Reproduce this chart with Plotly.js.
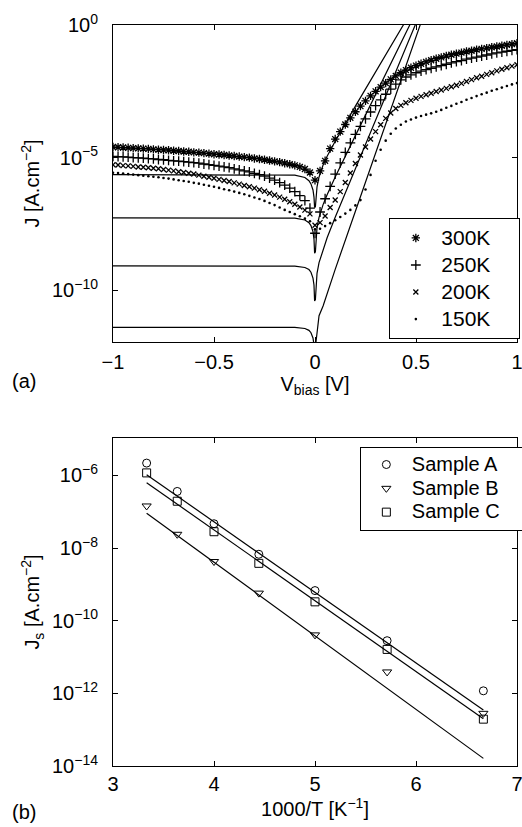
<!DOCTYPE html>
<html>
<head>
<meta charset="utf-8">
<script src="https://cdn.plot.ly/plotly-3.0.1.min.js"></script>
<style>html,body{margin:0;padding:0;background:#fff;}#chart{width:522px;height:827px;}</style>
</head>
<body>
<div id="chart"></div>
<script>
// ---------- Panel (a): J-V curves (log10 of J) ----------
const vbias = [-1,-0.975,-0.95,-0.925,-0.9,-0.875,-0.85,-0.825,-0.8,-0.775,-0.75,-0.725,-0.7,-0.675,-0.65,-0.625,-0.6,-0.575,-0.55,-0.525,-0.5,-0.475,-0.45,-0.425,-0.4,-0.375,-0.35,-0.325,-0.3,-0.275,-0.25,-0.225,-0.2,-0.175,-0.15,-0.125,-0.1,-0.075,-0.05,-0.025,0,0.025,0.05,0.075,0.1,0.125,0.15,0.175,0.2,0.225,0.25,0.275,0.3,0.325,0.35,0.375,0.4,0.425,0.45,0.475,0.5,0.525,0.55,0.575,0.6,0.625,0.65,0.675,0.7,0.725,0.75,0.775,0.8,0.825,0.85,0.875,0.9,0.925,0.95,0.975,1];

const logJ_300K = [-4.60,-4.61,-4.62,-4.63,-4.64,-4.65,-4.66,-4.67,-4.69,-4.70,-4.71,-4.72,-4.74,-4.75,-4.77,-4.78,-4.80,-4.81,-4.83,-4.85,-4.87,-4.88,-4.90,-4.92,-4.94,-4.96,-4.98,-5.00,-5.03,-5.05,-5.08,-5.11,-5.14,-5.17,-5.21,-5.25,-5.29,-5.35,-5.43,-5.56,-5.85,
 -5.50,-5.12,-4.66,-4.30,-4.02,-3.75,-3.50,-3.27,-3.06,-2.86,-2.67,-2.50,-2.34,-2.19,-2.05,-1.92,-1.80,-1.70,-1.61,-1.53,-1.46,-1.39,-1.33,-1.27,-1.22,-1.17,-1.12,-1.08,-1.04,-1.00,-0.97,-0.93,-0.90,-0.87,-0.84,-0.81,-0.78,-0.75,-0.72,-0.69];
const logJ_250K = [-4.95,-4.96,-4.97,-4.98,-5.00,-5.01,-5.02,-5.04,-5.05,-5.07,-5.08,-5.10,-5.12,-5.13,-5.15,-5.17,-5.19,-5.21,-5.24,-5.26,-5.29,-5.32,-5.35,-5.38,-5.42,-5.46,-5.50,-5.54,-5.59,-5.64,-5.70,-5.77,-5.85,-5.94,-6.04,-6.15,-6.28,-6.43,-6.62,-6.90,-7.85,
 -7.05,-6.55,-6.08,-5.62,-5.20,-4.80,-4.44,-4.12,-3.82,-3.54,-3.28,-3.04,-2.82,-2.61,-2.42,-2.23,-2.07,-1.96,-1.88,-1.80,-1.74,-1.68,-1.63,-1.58,-1.53,-1.48,-1.43,-1.38,-1.34,-1.29,-1.25,-1.21,-1.17,-1.13,-1.09,-1.05,-1.02,-0.99,-0.96,-0.93];
const logJ_200K = [-5.27,-5.28,-5.30,-5.31,-5.33,-5.35,-5.36,-5.38,-5.40,-5.42,-5.45,-5.47,-5.50,-5.53,-5.56,-5.59,-5.62,-5.66,-5.70,-5.74,-5.78,-5.82,-5.86,-5.90,-5.95,-6.00,-6.05,-6.10,-6.15,-6.21,-6.27,-6.34,-6.41,-6.49,-6.57,-6.66,-6.76,-6.86,-6.98,-7.12,-7.55,
 -7.45,-7.20,-6.88,-6.60,-6.28,-5.94,-5.58,-5.22,-4.90,-4.60,-4.30,-4.02,-3.76,-3.52,-3.32,-3.15,-3.03,-2.93,-2.84,-2.76,-2.69,-2.63,-2.57,-2.51,-2.45,-2.39,-2.33,-2.27,-2.20,-2.13,-2.06,-1.99,-1.93,-1.86,-1.80,-1.73,-1.67,-1.61,-1.55,-1.50];
const logJ_150K = [-5.57,-5.58,-5.60,-5.62,-5.64,-5.66,-5.68,-5.70,-5.72,-5.74,-5.77,-5.79,-5.82,-5.85,-5.88,-5.91,-5.95,-5.98,-6.02,-6.06,-6.10,-6.14,-6.19,-6.23,-6.28,-6.33,-6.38,-6.44,-6.50,-6.56,-6.63,-6.71,-6.79,-6.88,-6.97,-7.05,-7.13,-7.21,-7.30,-7.40,-7.70,
 -7.68,-7.58,-7.47,-7.36,-7.24,-7.11,-6.97,-6.80,-6.60,-6.20,-5.65,-5.12,-4.70,-4.36,-4.10,-3.90,-3.76,-3.64,-3.56,-3.49,-3.43,-3.38,-3.33,-3.27,-3.20,-3.12,-3.05,-2.97,-2.90,-2.82,-2.75,-2.68,-2.61,-2.55,-2.48,-2.42,-2.36,-2.30,-2.24,-2.19];

// model curves (solid lines)
const vfit = [-1,-0.5,-0.2,-0.1,-0.05,-0.03,-0.02,-0.01,-0.005,-0.002,0.002,0.005,0.01,0.02,0.04,0.06,0.1,0.2,0.3,0.4,0.5,0.6];
const logFit_300K = [-5.64,-5.64,-5.64,-5.66,-5.75,-5.87,-5.99,-6.22,-6.49,-6.88,-6.85,-6.44,-6.10,-5.73,-5.28,-4.95,-4.38,-3.06,-1.77,-0.48,0.81,2.10];
const logFit_250K = [-7.27,-7.27,-7.27,-7.28,-7.35,-7.45,-7.56,-7.79,-8.07,-8.60,-8.55,-7.98,-7.64,-7.25,-6.77,-6.40,-5.73,-4.17,-2.62,-1.07,0.48,2.03];
const logFit_200K = [-9.08,-9.08,-9.08,-9.09,-9.14,-9.22,-9.32,-9.54,-9.80,-10.40,-10.35,-9.71,-9.36,-8.96,-8.44,-8.02,-7.25,-5.42,-3.59,-1.76,0.07,1.90];
const logFit_150K = [-11.40,-11.40,-11.40,-11.40,-11.44,-11.51,-11.60,-11.80,-12.05,-12.40,-12.40,-11.94,-11.62,-10.96,-10.59,-10.11,-9.21,-7.02,-4.83,-2.64,-0.45,1.74];

const tempLabels = ['300K','250K','200K','150K'];

// ---------- Panel (b): Js vs 1000/T ----------
const invT = [3.333,3.636,4.0,4.444,5.0,5.714,6.667];
const logJs_A = [-5.66,-6.44,-7.33,-8.17,-9.17,-10.55,-11.93];
const logJs_B = [-6.84,-7.62,-8.37,-9.24,-10.39,-11.41,-12.55];
const logJs_C = [-5.93,-6.71,-7.55,-8.42,-9.48,-10.79,-12.71];
const fitX = [3.333,6.667];
const logFitA = [-5.98,-12.46];
const logFitB = [-7.04,-13.79];
const logFitC = [-6.20,-12.70];
const sampleLabels = ['Sample A','Sample B','Sample C'];

const p10 = a => a.map(v => Math.pow(10, v));
const FONT = 'Liberation Sans, Arial, Helvetica, sans-serif';
const NB = '\u00a0';
const legText = (s, size, pad) => '<span style="font-size:' + size + 'px">' + s + NB.repeat(pad) + '</span>';

const traces = [];
// fits panel a
[logFit_300K, logFit_250K, logFit_200K, logFit_150K].forEach(f => {
  traces.push({x: vfit, y: p10(f), mode: 'lines', line: {color: 'black', width: 1.2},
    showlegend: false, xaxis: 'x', yaxis: 'y'});
});
// data panel a
const syms = [
  {symbol: 'asterisk-open', size: 7, lw: 1.3},
  {symbol: 'cross-thin-open', size: 7, lw: 1.3},
  {symbol: 'x-thin-open', size: 5, lw: 1.3},
  {symbol: 'circle', size: 2.6, lw: 0}
];
[logJ_300K, logJ_250K, logJ_200K, logJ_150K].forEach((d, i) => {
  traces.push({x: vbias, y: p10(d), mode: 'markers', name: legText(tempLabels[i], 21, 4),
    marker: {symbol: syms[i].symbol, size: syms[i].size, color: 'black',
      line: {color: 'black', width: syms[i].lw}},
    xaxis: 'x', yaxis: 'y', legend: 'legend'});
});
// fits panel b
[logFitA, logFitB, logFitC].forEach(f => {
  traces.push({x: fitX, y: p10(f), mode: 'lines', line: {color: 'black', width: 1.2},
    showlegend: false, xaxis: 'x2', yaxis: 'y2'});
});
const symsB = ['circle-open','triangle-down-open','square-open'];
[logJs_A, logJs_B, logJs_C].forEach((d, i) => {
  traces.push({x: invT, y: p10(d), mode: 'markers', name: legText(sampleLabels[i], 20, 3),
    marker: {symbol: symsB[i], size: 8, color: 'black', line: {color: 'black', width: 1}},
    xaxis: 'x2', yaxis: 'y2', legend: 'legend2'});
});

const axBase = {
  showline: true, linecolor: 'black', linewidth: 1, mirror: 'ticks',
  ticks: 'inside', ticklen: 5, tickwidth: 1, tickcolor: 'black', automargin: false,
  showgrid: false, zeroline: false, tickfont: {family: FONT, size: 20, color: 'black'}
};

const layout = {
  width: 522, height: 827,
  margin: {l: 113, r: 5, t: 25, b: 61, autoexpand: false},
  paper_bgcolor: 'white', plot_bgcolor: 'white',
  font: {family: FONT, size: 20, color: 'black'},
  xaxis: Object.assign({}, axBase, {
    anchor: 'y', range: [-1, 1], tickvals: [-1, -0.5, 0, 0.5, 1],
    ticktext: ['\u22121', '\u22120.5', '0', '0.5', '1'], ticklabelstandoff: 2,
    ticklabeloverflow: 'allow',
    title: {text: 'V<sub>bias</sub> [V]', font: {family: FONT, size: 20}, standoff: 1}
  }),
  yaxis: Object.assign({}, axBase, {
    anchor: 'x', type: 'log', domain: [0.5722, 1], range: [-11.95, 0],
    tickvals: [1, 1e-5, 1e-10],
    ticktext: ['10<sup>0</sup>', '10<sup>\u22125</sup>', '10<sup>\u221210</sup>'],
    ticklabelstandoff: 10,
    title: {text: 'J [A.cm<sup>\u22122</sup>]', font: {family: FONT, size: 20}, standoff: 6}
  }),
  xaxis2: Object.assign({}, axBase, {
    anchor: 'y2', range: [3, 7], tickvals: [3, 4, 5, 6, 7], ticklabelstandoff: 0,
    ticklabeloverflow: 'allow',
    title: {text: '1000/T [K<sup>\u22121</sup>]', font: {family: FONT, size: 20}, standoff: 0}
  }),
  yaxis2: Object.assign({}, axBase, {
    anchor: 'x2', type: 'log', domain: [0, 0.4426], range: [-14, -4.97],
    tickvals: [1e-6, 1e-8, 1e-10, 1e-12, 1e-14],
    ticktext: ['10<sup>\u22126</sup>', '10<sup>\u22128</sup>', '10<sup>\u221210</sup>', '10<sup>\u221212</sup>', '10<sup>\u221214</sup>'],
    ticklabelstandoff: 10,
    title: {text: 'J<sub>s</sub> [A.cm<sup>\u22122</sup>]', font: {family: FONT, size: 20}, standoff: 6}
  }),
  legend: {x: 0.684, y: 0.739, xanchor: 'left', yanchor: 'top', bgcolor: 'white',
    bordercolor: 'black', borderwidth: 1, font: {family: FONT, size: 18.5, color: 'black'},
    itemwidth: 41, tracegroupgap: 0},
  legend2: {x: 0.611, y: 0.431, xanchor: 'left', yanchor: 'top', bgcolor: 'white',
    bordercolor: 'black', borderwidth: 1, font: {family: FONT, size: 16, color: 'black'},
    itemwidth: 41, tracegroupgap: 0},
  annotations: [
    {text: '(a)', xref: 'paper', yref: 'paper', x: -0.255, y: 0.5196, xanchor: 'left', yanchor: 'middle',
      showarrow: false, font: {family: FONT, size: 20, color: 'black'}},
    {text: '(b)', xref: 'paper', yref: 'paper', x: -0.255, y: -0.0621, xanchor: 'left', yanchor: 'middle',
      showarrow: false, font: {family: FONT, size: 20, color: 'black'}}
  ],
  showlegend: true
};

Plotly.newPlot('chart', traces, layout, {staticPlot: true, displayModeBar: false});
</script>
</body>
</html>
